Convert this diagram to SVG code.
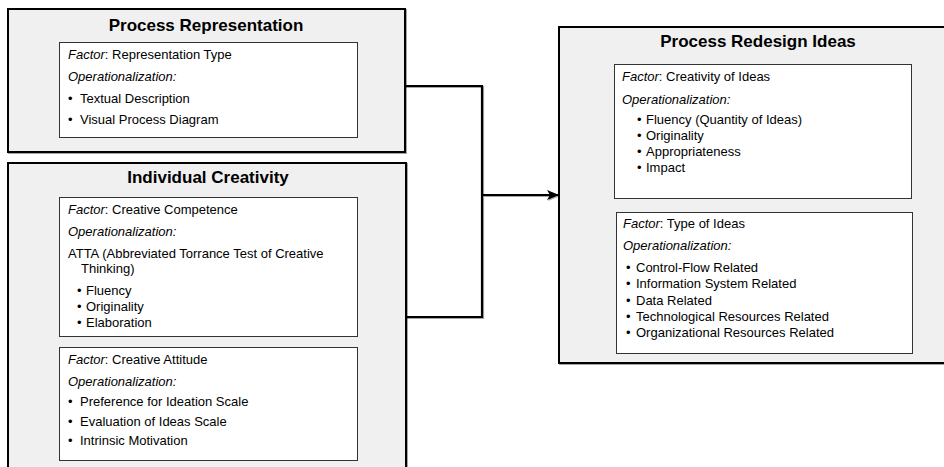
<svg xmlns="http://www.w3.org/2000/svg" width="944" height="467" viewBox="0 0 944 467">
<defs>
<filter id="sh" x="-5%" y="-5%" width="110%" height="110%">
<feDropShadow dx="1" dy="1" stdDeviation="0.6" flood-color="#000" flood-opacity="0.35"/>
</filter>
<marker id="arr" viewBox="0 0 12 10" refX="11" refY="5" markerWidth="12" markerHeight="10" markerUnits="userSpaceOnUse" orient="auto">
<path d="M0,0 L12,5 L0,10 L3,5 Z" fill="#000"/>
</marker>
<style>
.outer{fill:#f0f0f0;stroke:#000;stroke-width:2}
.inner{fill:#fff;stroke:#333;stroke-width:1}
.title{font-family:"Liberation Sans",Arial,sans-serif;font-size:17px;font-weight:bold;fill:#000;text-anchor:middle}
.t{font-family:"Liberation Sans",Arial,sans-serif;font-size:13px;fill:#000}
.i{font-style:italic}
.conn{fill:none;stroke:#000;stroke-width:2.2}
</style>
</defs>
<rect width="944" height="467" fill="#fff"/>

<g id="connectors" filter="url(#sh)">
<path class="conn" d="M404,86 H482 V317 H406"/>
<path class="conn" d="M482,195 H558" marker-end="url(#arr)"/>
</g>

<g id="process-representation">
<rect class="outer" x="8" y="9" width="397" height="143" filter="url(#sh)"/>
<text class="title" x="206" y="31">Process Representation</text>
<rect class="inner" x="59.5" y="42.5" width="298" height="95"/>
<text class="t" x="68" y="59"><tspan class="i">Factor</tspan>: Representation Type</text>
<text class="t i" x="68" y="81">Operationalization:</text>
<text class="t" x="68" y="103">•</text><text class="t" x="80" y="103">Textual Description</text>
<text class="t" x="68" y="124">•</text><text class="t" x="80" y="124">Visual Process Diagram</text>
</g>

<g id="individual-creativity">
<rect class="outer" x="8" y="163" width="398" height="310" filter="url(#sh)"/>
<text class="title" x="208" y="183">Individual Creativity</text>
<rect class="inner" x="59.5" y="197.5" width="298" height="139"/>
<text class="t" x="68" y="214"><tspan class="i">Factor</tspan>: Creative Competence</text>
<text class="t i" x="68" y="236">Operationalization:</text>
<text class="t" x="68" y="258">ATTA (Abbreviated Torrance Test of Creative</text>
<text class="t" x="81" y="273">Thinking)</text>
<text class="t" x="77" y="295">•</text><text class="t" x="86" y="295">Fluency</text>
<text class="t" x="77" y="311">•</text><text class="t" x="86" y="311">Originality</text>
<text class="t" x="77" y="327">•</text><text class="t" x="86" y="327">Elaboration</text>
<rect class="inner" x="59.5" y="347.5" width="298" height="113"/>
<text class="t" x="68" y="364"><tspan class="i">Factor</tspan>: Creative Attitude</text>
<text class="t i" x="68" y="386">Operationalization:</text>
<text class="t" x="68" y="406">•</text><text class="t" x="80" y="406">Preference for Ideation Scale</text>
<text class="t" x="68" y="426">•</text><text class="t" x="80" y="426">Evaluation of Ideas Scale</text>
<text class="t" x="68" y="445">•</text><text class="t" x="80" y="445">Intrinsic Motivation</text>
</g>

<g id="process-redesign-ideas">
<rect class="outer" x="559" y="27" width="400" height="336" filter="url(#sh)"/>
<text class="title" x="758" y="47">Process Redesign Ideas</text>
<rect class="inner" x="614.5" y="64.5" width="297" height="134"/>
<text class="t" x="622" y="81"><tspan class="i">Factor</tspan>: Creativity of Ideas</text>
<text class="t i" x="622" y="104">Operationalization:</text>
<text class="t" x="637" y="124">•</text><text class="t" x="646" y="124">Fluency (Quantity of Ideas)</text>
<text class="t" x="637" y="140">•</text><text class="t" x="646" y="140">Originality</text>
<text class="t" x="637" y="156">•</text><text class="t" x="646" y="156">Appropriateness</text>
<text class="t" x="637" y="172">•</text><text class="t" x="646" y="172">Impact</text>
<rect class="inner" x="616.5" y="212.5" width="296" height="141"/>
<text class="t" x="623" y="228"><tspan class="i">Factor</tspan>: Type of Ideas</text>
<text class="t i" x="623" y="250">Operationalization:</text>
<text class="t" x="626" y="272">•</text><text class="t" x="636" y="272">Control-Flow Related</text>
<text class="t" x="626" y="288">•</text><text class="t" x="636" y="288">Information System Related</text>
<text class="t" x="626" y="305">•</text><text class="t" x="636" y="305">Data Related</text>
<text class="t" x="626" y="321">•</text><text class="t" x="636" y="321">Technological Resources Related</text>
<text class="t" x="626" y="337">•</text><text class="t" x="636" y="337">Organizational Resources Related</text>
</g>
</svg>
